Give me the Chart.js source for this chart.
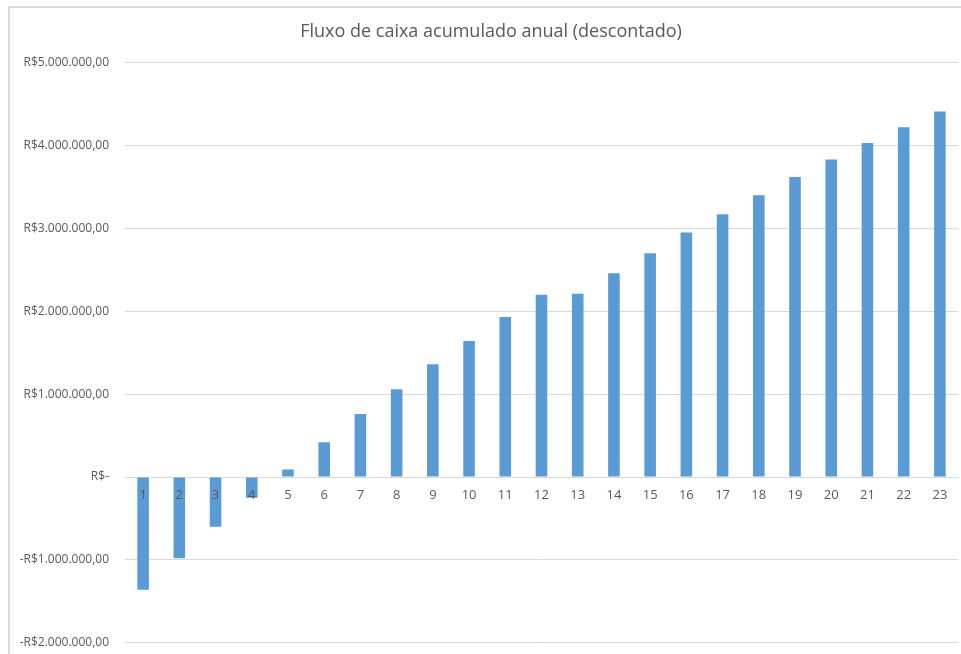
<!DOCTYPE html>
<html>
<head>
<meta charset="utf-8">
<script src="https://cdn.jsdelivr.net/npm/chart.js@4"></script>
<style>
    body { margin: 0; background: #fff; }
    #wrap { position: relative; width: 961px; height: 654px; }
    #moldura { position: absolute; left: 8px; top: 6px; right: 0; bottom: 0; border-left: 2px solid #d9d9d9; border-top: 2px solid #d9d9d9; pointer-events: none; }
</style>
</head>
<body>
<div id="wrap">
    <canvas id="grafica" width="961" height="654"></canvas>
    <div id="moldura"></div>
</div>
<script>
    const titulo = 'Fluxo de caixa acumulado anual (descontado)';
    const anos = ['1','2','3','4','5','6','7','8','9','10','11','12','13','14','15','16','17','18','19','20','21','22','23'];
    const fluxoAcumulado = [
        -1360000, -980000, -600000, -250000, 90000, 420000, 760000, 1060000,
        1360000, 1640000, 1930000, 2200000, 2210000, 2460000, 2700000, 2950000,
        3170000, 3400000, 3620000, 3830000, 4030000, 4220000, 4410000
    ];
    const eixoMin = -2000000;
    const eixoMax = 5000000;
    const eixoPasso = 1000000;

    function formatoReal(valor) {
        if (valor === 0) return 'R$-';
        const abs = Math.abs(valor);
        const inteiro = Math.floor(abs).toString().replace(/\B(?=(\d{3})+(?!\d))/g, '.');
        return (valor < 0 ? '-' : '') + 'R$' + inteiro + ',00';
    }

    const grafica = document.querySelector('#grafica');
    const cinza = '#595959';
    const fonte = "'Open Sans', sans-serif";

    // o título do Excel fica centrado um pouco à direita do centro do canvas
    const deslocaTitulo = {
        id: 'deslocaTitulo',
        afterLayout(chart) {
            if (chart.titleBlock) chart.titleBlock.left += 24;
        }
    };

    new Chart(grafica, {
        type: 'bar',
        data: {
            labels: anos,
            datasets: [{
                label: '',
                data: fluxoAcumulado,
                backgroundColor: '#5b9bd5',
                categoryPercentage: 1,
                barPercentage: 0.32
            }]
        },
        options: {
            responsive: false,
            animation: false,
            devicePixelRatio: 1,
            layout: {
                padding: { left: 0, right: 3, top: 0, bottom: 0 }
            },
            scales: {
                x: {
                    position: { y: 0 },
                    grid: { display: false },
                    border: { display: true, color: '#d9d9d9', width: 1 },
                    ticks: { z: 1, color: cinza, font: { family: fonte, size: 13 }, padding: 2, maxRotation: 0, autoSkip: false }
                },
                y: {
                    min: eixoMin,
                    max: eixoMax,
                    afterFit: function(scale) { scale.width = 125; },
                    grid: { color: '#d9d9d9', drawTicks: true, tickLength: 12, tickColor: 'rgba(0,0,0,0)' },
                    border: { display: false },
                    ticks: {
                        stepSize: eixoPasso,
                        padding: 4,
                        color: cinza,
                        font: { family: fonte, size: 12 },
                        callback: function(v) { return formatoReal(v); }
                    }
                }
            },
            plugins: {
                legend: { display: false },
                tooltip: { enabled: false },
                title: {
                    display: true,
                    text: titulo,
                    color: cinza,
                    font: { family: fonte, size: 18, weight: 'normal' },
                    padding: { top: 21, bottom: 20 }
                }
            }
        },
        plugins: [deslocaTitulo]
    });
</script>
</body>
</html>
